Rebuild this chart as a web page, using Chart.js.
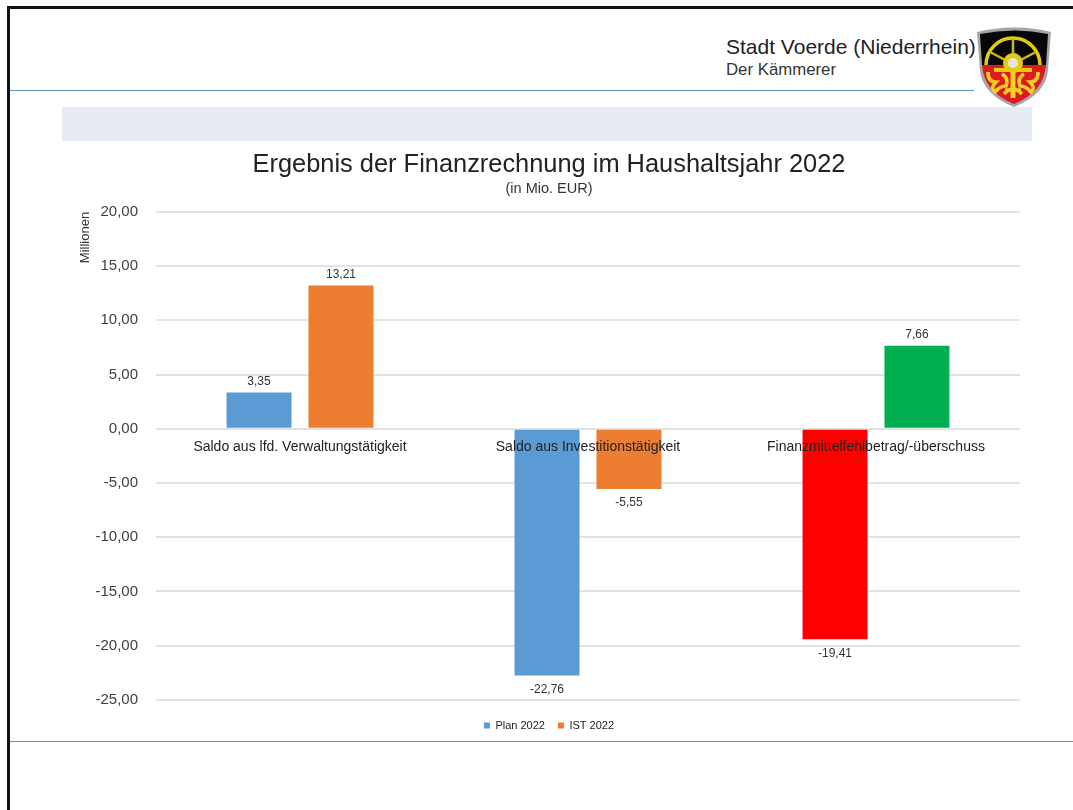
<!DOCTYPE html>
<html><head><meta charset="utf-8">
<script src="https://cdn.jsdelivr.net/npm/chart.js@4"></script>
<style>
html,body{margin:0;padding:0;background:#fff;width:1073px;height:810px;overflow:hidden;font-family:"Liberation Sans",Arial,sans-serif}
.a{position:absolute}
canvas{position:absolute;left:0;top:0}
</style></head><body>
<div class="a" style="left:7px;top:6px;width:1066px;height:3px;background:#111"></div>
<div class="a" style="left:7px;top:6px;width:3px;height:804px;background:#111"></div>
<div class="a" style="left:10px;top:90px;width:964px;height:1px;background:#5b8fc9"></div>
<div class="a" style="left:10px;top:741px;width:1063px;height:1px;background:#5b8fc9"></div>
<div class="a" style="left:62px;top:107px;width:970px;height:34px;background:#e7ecf4"></div>
<div class="a" style="left:726px;top:35px;font-size:21px;color:#222;white-space:nowrap">Stadt Voerde (Niederrhein)</div>
<div class="a" style="left:726px;top:60px;font-size:16.8px;color:#333;white-space:nowrap">Der Kämmerer</div>
<svg class="a" style="left:976px;top:26px" width="76" height="82" viewBox="0 0 76 82">
 <path d="M1 6 Q38 -3 75 6 L72 44 Q70 68 38 81 Q6 68 4 44 Z" fill="#a5a5a5"/>
 <path d="M4 8 Q38 1 72 8 L70 39 H6 Z" fill="#070707"/>
 <path d="M6 39 H70 Q68 66 38 78 Q8 66 6 39 Z" fill="#dd1a20"/>
 <path d="M10 39 A27 27 0 0 1 64 39" fill="none" stroke="#e2cb10" stroke-width="3.5"/>
 <path d="M37 12 V46 M14 26 L37 38 L60 26" stroke="#cdb912" stroke-width="2.5" fill="none"/>
 <circle cx="37" cy="37" r="10" fill="#e2cb10"/><circle cx="37" cy="37" r="5" fill="#e6e6e6"/>
 <path d="M18 44 H56" stroke="#e2cb10" stroke-width="4"/>
 <path d="M37 46 V72" stroke="#f0d020" stroke-width="5"/>
 <path d="M12 46 Q12 56 20 56 Q14 62 19 66 Q24 60 30 60 Q33 52 26 48 M62 46 Q62 56 54 56 Q60 62 55 66 Q50 60 44 60 Q41 52 48 48 M28 68 Q37 58 46 68 M29 64 H45" stroke="#f0d020" stroke-width="3.6" fill="none"/>
</svg>
<canvas id="c" width="1073" height="810"></canvas>
<script>
const categories = ["Saldo aus lfd. Verwaltungstätigkeit", "Saldo aus Investitionstätigkeit", "Finanzmittelfehlbetrag/-überschuss"];
const plan2022 = [3.35, -22.76, -19.41];
const ist2022 = [13.21, -5.55, 7.66];
const planColors = ["#5b9bd5", "#5b9bd5", "#ff0000"];
const istColors = ["#ed7d31", "#ed7d31", "#00b050"];
const fmt = v => v.toFixed(2).replace(".", ",");
const font = "'Liberation Sans', Arial, sans-serif";
const valueLabels = {
  id: "valueLabels",
  afterDatasetsDraw(chart) {
    const ctx = chart.ctx;
    ctx.save();
    ctx.font = "12px " + font;
    ctx.fillStyle = "#333";
    ctx.textAlign = "center";
    chart.data.datasets.forEach((ds, i) => {
      chart.getDatasetMeta(i).data.forEach((bar, j) => {
        const v = ds.data[j];
        ctx.textBaseline = v >= 0 ? "bottom" : "top";
        ctx.fillText(fmt(v), bar.x, bar.y + (v >= 0 ? -5 : 8));
      });
    });
    ctx.restore();
  }
};
new Chart(document.getElementById("c"), {
  type: "bar",
  plugins: [valueLabels],
  data: {
    labels: categories,
    datasets: [
      { label: "Plan 2022", data: plan2022, backgroundColor: planColors, legendColor: "#5b9bd5", barPercentage: 0.793, categoryPercentage: 0.569 },
      { label: "IST 2022", data: ist2022, backgroundColor: istColors, legendColor: "#ed7d31", barPercentage: 0.793, categoryPercentage: 0.569 }
    ]
  },
  options: {
    responsive: false,
    animation: false,
    layout: { padding: { left: 78, right: 53, top: 150, bottom: 69 } },
    plugins: {
      title: { display: true, text: "Ergebnis der Finanzrechnung im Haushaltsjahr 2022", color: "#222", font: { family: font, size: 25.4, weight: "normal" }, padding: { top: 0, bottom: 0 } },
      subtitle: { display: true, text: "(in Mio. EUR)", color: "#333", font: { family: font, size: 14.5, weight: "normal" }, padding: { top: 0, bottom: 14 } },
      legend: {
        position: "bottom",
        title: { display: true, text: " ", font: { size: 1 }, padding: { top: 0, bottom: 6 } },
        labels: {
          boxWidth: 6, boxHeight: 6, padding: 13, color: "#222",
          font: { family: font, size: 11 },
          generateLabels: c => c.data.datasets.map((d, i) => ({ text: d.label, fillStyle: d.legendColor, fontColor: "#222", strokeStyle: d.legendColor, lineWidth: 0, datasetIndex: i }))
        }
      },
      tooltip: { enabled: false }
    },
    scales: {
      x: {
        position: { y: 0 },
        grid: { display: false },
        border: { display: false },
        ticks: { z: 1, color: "#222", font: { family: font, size: 14 }, padding: 2, maxRotation: 0, autoSkip: false }
      },
      y: {
        min: -25, max: 20,
        afterFit: s => { s.width = 78; },
        grid: { color: "#e3e3e3", lineWidth: 2, drawTicks: false },
        border: { display: false },
        title: { display: true, text: "Millionen", align: "end", color: "#333", font: { family: font, size: 13 }, padding: 0 },
        ticks: { stepSize: 5, color: "#404040", font: { family: font, size: 15 }, padding: 18, callback: v => fmt(v) }
      }
    }
  }
});
</script>
</body></html>
